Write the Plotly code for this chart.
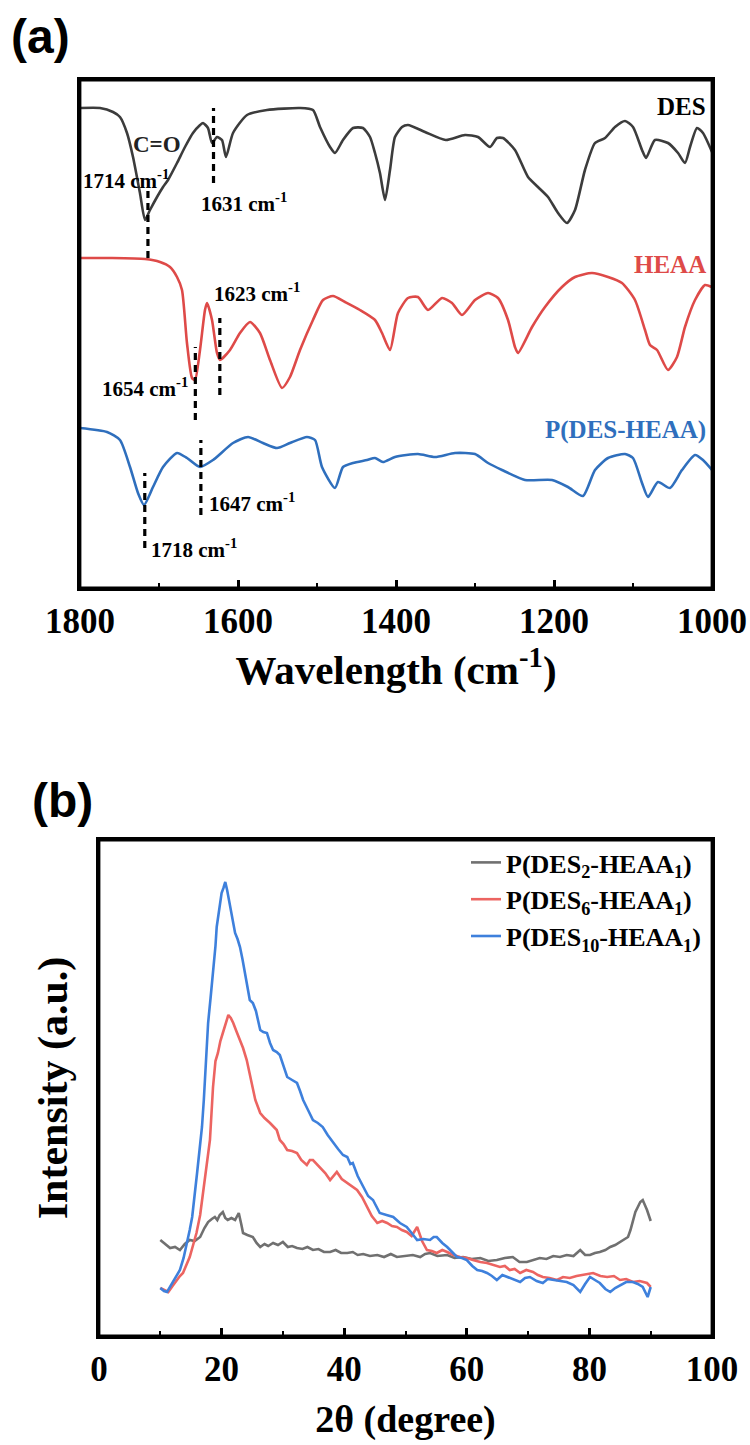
import plotly.graph_objects as go

# ---------------- Panel (a): FTIR ----------------
des_wn = [1800, 1774.7, 1758.2, 1749.4, 1740.5, 1732.9, 1724.1, 1717.7, 1711.4, 1702.5, 1694.9,
          1688.6, 1677.2, 1667.1, 1657.0, 1648.0, 1644.3, 1638.0, 1632.9, 1626.6, 1620.3, 1615.2,
          1606.3, 1588.6, 1563.3, 1521.5, 1505.1, 1496.2, 1483.5, 1477.2, 1467.1, 1454.4, 1441.8,
          1432.9, 1426.6, 1420.3, 1413.9, 1407.6, 1401.3, 1392.4, 1384.8, 1363.3, 1337.0, 1312.7,
          1296.2, 1281.0, 1272.2, 1264.6, 1249.4, 1232.9, 1220.3, 1207.6, 1194.9, 1183.5, 1173.4,
          1160.8, 1148.1, 1135.4, 1122.8, 1110.1, 1100.0, 1088.6, 1083.5, 1072.2, 1055.7, 1043.0,
          1034.2, 1027.8, 1019.0, 1011.4, 1000]
des_t = [480, 480, 476, 471, 455, 431, 395, 368, 378, 391, 401,
         408, 425, 441, 455, 463, 465, 460, 445, 451, 448, 431,
         455, 473, 478, 480, 478, 461, 441, 435, 448, 460, 460,
         451, 435, 415, 388, 418, 451, 461, 463, 456, 448, 453,
         451, 441, 450, 450, 438, 411, 401, 391, 375, 365, 378,
         418, 445, 450, 461, 467, 461, 438, 430, 448, 445, 435,
         425, 441, 460, 455, 436]

heaa_wn = [1800, 1762, 1717.7, 1698.7, 1686.1, 1677.2, 1670.9, 1664.6, 1658.2, 1654.4, 1648.1,
           1641.8, 1639.2, 1632.9, 1626.6, 1622.8, 1610.1, 1597.5, 1584.8, 1572.2, 1559.5, 1544.3,
           1534.2, 1521.5, 1505.1, 1492.4, 1479.7, 1464.6, 1445.6, 1426.6, 1417.7, 1407.6, 1397.5,
           1384.8, 1372.2, 1359.5, 1341.8, 1329.1, 1316.5, 1300.0, 1283.5, 1270.9, 1258.2, 1249.4,
           1245.6, 1227.8, 1211.4, 1189.9, 1173.4, 1151.9, 1131.6, 1113.9, 1097.5, 1084.8, 1078.5,
           1069.6, 1055.7, 1044.3, 1034.2, 1021.5, 1008.9, 1000]
heaa_t = [330, 330, 329, 326, 321, 311, 298, 245, 210, 208, 238,
          278, 285, 268, 235, 228, 238, 255, 266, 255, 228, 200,
          211, 238, 268, 288, 292, 286, 278, 268, 255, 238, 275,
          290, 291, 278, 290, 285, 273, 288, 295, 290, 268, 241,
          235, 261, 281, 301, 311, 315, 311, 305, 288, 258, 243,
          238, 218, 231, 261, 288, 303, 301]

pdh_wn = [1800, 1765.8, 1749.4, 1736.7, 1726.6, 1719.0, 1707.6, 1694.9, 1677.2, 1664.6, 1648.1,
          1631.6, 1606.3, 1587.3, 1568.4, 1550.6, 1534.2, 1512.7, 1502.5, 1493.7, 1477.2, 1467.1,
          1454.4, 1436.7, 1426.6, 1416.5, 1401.3, 1372.2, 1350.6, 1325.3, 1300.0, 1283.5, 1265.8,
          1236.7, 1202.5, 1182.3, 1163.3, 1148.1, 1131.6, 1110.1, 1100.0, 1088.6, 1081.0, 1068.4,
          1053.2, 1038.0, 1021.5, 1011.4, 1000]
pdh_t = [160, 156, 148, 121, 95, 83, 101, 121, 135, 130, 121,
         128, 145, 151, 145, 140, 145, 151, 148, 121, 100, 121,
         125, 128, 130, 126, 131, 134, 131, 135, 134, 125, 118,
         108, 108, 101, 92, 118, 130, 134, 130, 105, 91, 106,
         100, 118, 133, 128, 118]

# marked peaks: position, and vertical extent of the dashed marker (transmittance units)
peak_pos = [1714, 1631, 1654, 1623, 1647, 1718]
peak_y0 = [330, 405, 168, 193, 73, 40]
peak_y1 = [401, 480, 241, 270, 148, 115]
peak_labels = ["1714 cm<sup>-1</sup>", "1631 cm<sup>-1</sup>", "1654 cm<sup>-1</sup>",
               "1623 cm<sup>-1</sup>", "1647 cm<sup>-1</sup>", "1718 cm<sup>-1</sup>"]
label_x = [1741.8, 1592.4, 1717.7, 1576.0, 1582.0, 1655.7]
label_y = [408, 385, 200, 295, 85, 40]

# ---------------- Panel (b): XRD ----------------
x2_tt = [10.0, 10.8, 11.6, 12.4, 13.2, 14.0, 14.8, 15.6, 16.5, 17.2, 17.8, 18.4, 18.9, 19.3, 19.7, 20.2,
         20.6, 21.0, 21.6, 22.2, 22.8, 23.2, 23.5, 24.2, 25.1, 25.7, 26.3, 27.0, 27.6, 28.4, 29.2, 30.0,
         30.8, 31.5, 32.3, 33.2, 34.0, 34.9, 35.8, 36.7, 37.7, 38.6, 39.5, 40.5, 41.4, 42.2, 43.1, 44.2,
         45.4, 46.5, 47.6, 48.6, 49.8, 51.2, 52.4, 53.2, 54.0, 55.2, 56.8, 58.0, 59.4, 60.8, 62.2, 63.5,
         64.9, 66.2, 67.5, 68.6, 69.8, 70.8, 71.9, 73.0, 74.1, 75.2, 76.3, 77.4, 78.5, 79.3, 80.1, 80.9,
         81.7, 82.6, 83.4, 84.2, 85.0, 85.7, 86.3, 86.7, 87.1, 87.5, 87.9, 88.3, 88.7, 89.1, 89.4, 90.0]
x2_int = [96, 92, 88, 89, 86, 92, 96, 95, 99, 108, 114, 117, 119, 116, 121, 124,
          118, 116, 118, 116, 123, 112, 103, 101, 99, 93, 89, 92, 90, 93, 91, 94,
          89, 90, 88, 87, 89, 86, 87, 84, 84, 86, 83, 83, 84, 81, 82, 80,
          81, 79, 82, 79, 80, 81, 79, 82, 83, 80, 81, 78, 79, 77, 78, 75,
          76, 78, 79, 74, 74, 76, 78, 77, 80, 79, 81, 80, 86, 81, 81, 83,
          84, 86, 89, 91, 94, 96, 99, 106, 116, 124, 129, 134, 136, 130, 126, 115]

x6_tt = [10.0, 10.6, 11.3, 12.0, 12.7, 13.2, 13.7, 14.3, 14.8, 15.4, 15.9, 16.5, 17.0, 17.6, 18.1, 18.6,
         19.0, 19.4, 19.8, 20.2, 20.6, 21.1, 21.5, 21.9, 22.4, 23.0, 23.5, 24.1, 24.6, 25.0, 25.5, 26.3,
         27.0, 27.9, 28.5, 29.0, 29.5, 30.1, 30.7, 31.5, 32.3, 33.0, 33.9, 34.4, 34.9, 35.5, 36.1, 36.9,
         37.7, 38.3, 38.8, 39.6, 40.5, 41.3, 42.1, 42.9, 43.7, 44.5, 45.4, 46.2, 47.0, 47.8, 48.6, 49.4,
         50.2, 51.0, 51.9, 52.7, 53.5, 54.3, 55.1, 56.0, 56.8, 57.8, 58.9, 60.0, 61.0, 62.2, 63.3, 64.3,
         65.4, 66.2, 67.0, 67.8, 68.7, 69.7, 70.8, 71.6, 72.4, 73.5, 74.7, 75.7, 76.8, 77.9, 79.0, 79.8,
         80.6, 81.8, 82.9, 84.0, 85.0, 86.0, 87.1, 88.2, 89.4, 90.0]
x6_int = [48, 46, 44, 50, 56, 60, 63, 72, 79, 92, 103, 121, 143, 170, 196, 249,
          275, 283, 295, 303, 312, 321, 318, 313, 305, 296, 288, 276, 262, 252, 236, 223,
          218, 213, 209, 206, 196, 192, 186, 185, 183, 176, 171, 176, 176, 172, 169, 163,
          156, 161, 164, 157, 153, 150, 146, 139, 129, 120, 113, 115, 113, 110, 109, 106,
          104, 100, 109, 95, 86, 85, 83, 86, 84, 81, 79, 78, 76, 74, 73, 71,
          69, 70, 66, 67, 63, 66, 64, 61, 59, 58, 56, 59, 58, 60, 61, 62,
          63, 60, 59, 60, 56, 57, 54, 55, 53, 49]

x10_tt = [10.0, 10.6, 11.1, 11.6, 12.1, 12.7, 13.2, 13.8, 14.4, 14.8, 15.2, 15.6, 16.0, 16.4, 16.8, 17.1,
          17.4, 17.8, 18.2, 18.6, 19.0, 19.2, 19.6, 20.0, 20.3, 20.6, 20.9, 21.1, 21.4, 21.7, 22.0, 22.2,
          22.6, 23.0, 23.4, 23.8, 24.2, 24.6, 25.1, 25.6, 26.3, 26.8, 27.4, 27.9, 28.4, 29.0, 29.5, 30.1,
          30.7, 31.5, 32.3, 32.8, 33.3, 34.1, 34.9, 35.7, 36.5, 37.3, 38.2, 39.0, 39.8, 40.5, 41.0, 41.4,
          42.2, 43.1, 43.9, 44.7, 45.3, 45.8, 46.9, 48.0, 49.1, 50.2, 51.0, 51.9, 52.9, 54.0, 54.6, 55.1,
          56.0, 56.8, 57.6, 58.4, 59.2, 60.0, 60.9, 61.7, 62.5, 63.3, 64.1, 64.9, 65.8, 66.6, 67.6, 68.7,
          69.5, 70.3, 71.4, 72.4, 73.2, 74.1, 75.2, 76.3, 77.4, 78.5, 79.3, 80.1, 80.9, 81.7, 82.6, 83.4,
          84.2, 85.0, 86.0, 87.1, 87.9, 88.7, 89.5, 90.0]
x10_int = [48, 45, 44, 49, 54, 60, 66, 78, 93, 106, 119, 139, 163, 186, 209, 236,
           275, 313, 338, 363, 390, 409, 428, 443, 448, 454, 446, 439, 428, 419, 410, 403,
           397, 389, 377, 363, 350, 336, 333, 325, 306, 304, 303, 293, 286, 284, 281, 270,
           259, 256, 253, 245, 236, 226, 216, 213, 209, 201, 193, 187, 181, 179, 172, 173,
           160, 149, 140, 136, 128, 123, 121, 119, 113, 109, 103, 96, 97, 96, 99, 99,
           93, 89, 84, 79, 78, 76, 70, 66, 65, 63, 60, 56, 61, 59, 56, 54,
           58, 59, 55, 53, 57, 56, 55, 54, 51, 44, 52, 59, 56, 53, 47, 44,
           48, 51, 54, 54, 52, 49, 39, 49]

xrd_names = ["P(DES<sub>2</sub>-HEAA<sub>1</sub>)",
             "P(DES<sub>6</sub>-HEAA<sub>1</sub>)",
             "P(DES<sub>10</sub>-HEAA<sub>1</sub>)"]

# ---------------- styles ----------------
SERIF = "Liberation Serif"
C_DES, C_HEAA, C_PDH = "#3c3c3c", "#de4a48", "#2f6fbd"
C_X2, C_X6, C_X10 = "#707070", "#ec6461", "#3e80dc"

fig = go.Figure()

for xs, ys, col in [(des_wn, des_t, C_DES), (heaa_wn, heaa_t, C_HEAA), (pdh_wn, pdh_t, C_PDH)]:
    fig.add_trace(go.Scatter(x=xs, y=ys, mode="lines", xaxis="x", yaxis="y", showlegend=False,
                             line=dict(color=col, width=2.6, shape="spline", smoothing=0.6),
                             hoverinfo="skip"))

for xs, ys, col, nm in [(x2_tt, x2_int, C_X2, xrd_names[0]),
                        (x6_tt, x6_int, C_X6, xrd_names[1]),
                        (x10_tt, x10_int, C_X10, xrd_names[2])]:
    fig.add_trace(go.Scatter(x=xs, y=ys, mode="lines", xaxis="x2", yaxis="y2", name=nm,
                             legendgroup=nm, line=dict(color=col, width=2.6)))

shapes = []
# plot frames
for xr, yr in [("x domain", "y domain"), ("x2 domain", "y2 domain")]:
    shapes.append(dict(type="rect", xref=xr, yref=yr, x0=0, x1=1, y0=0, y1=1,
                       line=dict(color="black", width=2.8), fillcolor="rgba(0,0,0,0)"))
for p, a, b in zip(peak_pos, peak_y0, peak_y1):
    shapes.append(dict(type="line", xref="x", yref="y", x0=p, x1=p, y0=a, y1=b,
                       line=dict(color="black", width=3.2, dash="7px,5px")))

ann = []
for t, x, y in zip(peak_labels, label_x, label_y):
    ann.append(dict(text=t, x=x, y=y, xref="x", yref="y", showarrow=False,
                    font=dict(family=SERIF, size=21, color="black", weight="bold")))
ann.append(dict(text="C=O", x=1702.5, y=443, xref="x", yref="y", showarrow=False,
                font=dict(family=SERIF, size=23, color="#222222", weight="bold")))
for t, y, col in [("DES", 481, "black"), ("HEAA", 323, C_HEAA), ("P(DES-HEAA)", 158, C_PDH)]:
    ann.append(dict(text=t, x=1005, y=y, xref="x", yref="y", xanchor="right", showarrow=False,
                    font=dict(family=SERIF, size=25, color=col, weight="bold")))
ann.append(dict(text="(a)", x=72 / 750, y=1 - 37 / 1445, xref="paper", yref="paper",
                xanchor="right", yanchor="middle", showarrow=False,
                font=dict(family="Liberation Sans", size=48, color="black", weight="bold")))
ann.append(dict(text="(b)", x=95 / 750, y=1 - 800 / 1445, xref="paper", yref="paper",
                xanchor="right", yanchor="middle", showarrow=False,
                font=dict(family="Liberation Sans", size=48, color="black", weight="bold")))

axis_common = dict(showline=True, mirror=True, linecolor="black", linewidth=2.8,
                   showgrid=False, zeroline=False, automargin=False)

fig.update_layout(
    width=750, height=1445, margin=dict(l=0, r=0, t=0, b=0, autoexpand=False),
    paper_bgcolor="white", plot_bgcolor="white",
    shapes=shapes, annotations=ann,
    xaxis=dict(domain=[80 / 750, 712 / 750], anchor="y", range=[1800, 1000],
               tickmode="linear", tick0=1000, dtick=200, ticks="inside", ticklen=8,
               tickwidth=2.5, tickcolor="black",
               minor=dict(ticks="inside", dtick=100, ticklen=5, tickwidth=2, tickcolor="black"),
               tickfont=dict(family=SERIF, size=35, color="black", weight="bold"),
               title=dict(text="Wavelength (cm<sup>-1</sup>)", standoff=6,
                          font=dict(family=SERIF, size=41, color="black", weight="bold")),
               **axis_common),
    yaxis=dict(domain=[1 - 588 / 1445, 1 - 80 / 1445], anchor="x", range=[0, 508],
               showticklabels=False, ticks="", **axis_common),
    xaxis2=dict(domain=[99 / 750, 712 / 750], anchor="y2", range=[0, 100],
                tickmode="linear", tick0=0, dtick=20, ticks="inside", ticklen=8,
                tickwidth=2.5, tickcolor="black",
                minor=dict(ticks="inside", dtick=10, ticklen=5, tickwidth=2, tickcolor="black"),
                tickfont=dict(family=SERIF, size=35, color="black", weight="bold"),
                title=dict(text="2θ (degree)", standoff=18,
                           font=dict(family=SERIF, size=38, color="black", weight="bold")),
                **axis_common),
    yaxis2=dict(domain=[1 - 1336 / 1445, 1 - 840 / 1445], anchor="x2", range=[0, 496],
                showticklabels=False, ticks="",
                title=dict(text="Intensity (a.u.)", standoff=16,
                           font=dict(family=SERIF, size=42, color="black", weight="bold")),
                **axis_common),
    legend=dict(x=466 / 750, y=1 - 839 / 1445, xanchor="left", yanchor="top",
                bgcolor="rgba(0,0,0,0)", borderwidth=0, tracegroupgap=0,
                font=dict(family=SERIF, size=26, color="black", weight="bold")),
)

fig.write_html("out.html")
